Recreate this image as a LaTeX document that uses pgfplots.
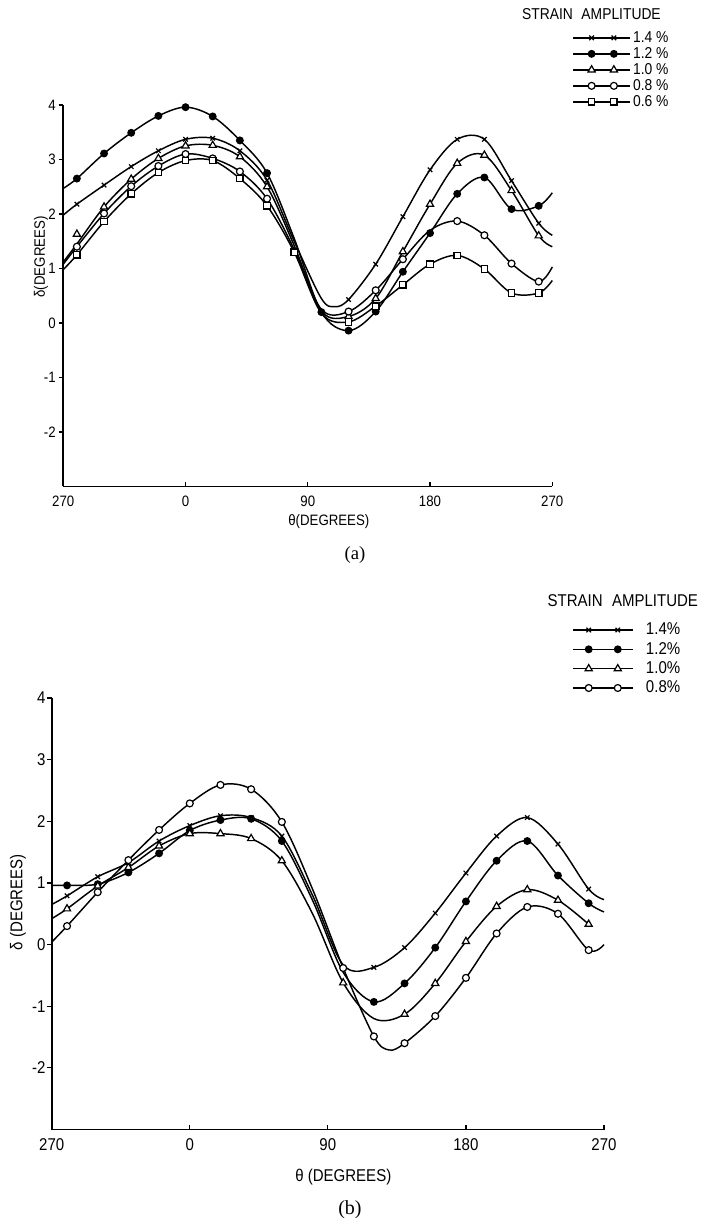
\documentclass[border=0pt]{standalone}
\usepackage{pgfplots}
\pgfplotsset{compat=1.18}
\usepackage{pgfplotstable}
\usepackage{fontspec}
\setmainfont[FakeStretch=0.88]{Liberation Sans}
\newfontfamily\capfont{Liberation Serif}
\newcommand\fa{\fontsize{11.3}{13}\selectfont}
\newcommand\fb{\fontsize{12.8}{15}\selectfont}

% theta axis runs from -90 (= 270 deg) to 270 deg.
% column y: points of the drawn curve, column m: measured points (nan = no mark)

% ---------- (a) ----------
\pgfplotstableread{
x y m
-90 1.98 nan
-80 2.18 2.18
-60 2.53 2.53
-40 2.87 2.87
-20 3.16 3.16
0 3.37 3.37
20 3.39 3.39
40 3.16 3.16
60 2.62 2.62
80 1.50 nan
100 0.45 nan
110 0.30 nan
120 0.43 0.43
140 1.08 1.08
160 1.95 1.95
180 2.81 2.81
200 3.37 3.37
220 3.37 3.37
240 2.61 2.61
260 1.83 1.83
270 1.61 nan
}\tAa
\pgfplotstableread{
x y m
-90 2.47 nan
-80 2.65 2.65
-60 3.11 3.11
-40 3.49 3.49
-20 3.80 3.80
0 3.96 3.96
20 3.79 3.79
40 3.35 3.35
60 2.75 2.75
80 1.55 nan
100 0.20 0.20
120 -0.14 -0.14
140 0.21 0.21
160 0.94 0.94
180 1.65 1.65
200 2.37 2.37
220 2.67 2.67
240 2.09 2.09
260 2.15 2.15
270 2.39 nan
}\tAb
\pgfplotstableread{
x y m
-90 1.12 nan
-80 1.45 1.63
-60 2.13 2.13
-40 2.64 2.64
-20 3.02 3.02
0 3.25 3.25
20 3.26 3.26
40 3.05 3.05
60 2.50 2.50
80 1.42 nan
100 0.22 nan
120 0.12 0.12
140 0.45 0.45
160 1.31 1.31
180 2.18 2.18
200 2.93 2.93
220 3.08 3.08
240 2.43 2.43
260 1.60 1.60
270 1.40 nan
}\tAc
\pgfplotstableread{
x y m
-90 1.08 nan
-80 1.40 1.40
-60 2.01 2.01
-40 2.51 2.51
-20 2.88 2.88
0 3.10 3.10
20 3.02 3.02
40 2.78 2.78
60 2.28 2.28
80 1.35 nan
100 0.25 nan
120 0.21 0.21
140 0.60 0.60
160 1.17 1.17
180 1.70 nan
200 1.87 1.87
220 1.61 1.61
240 1.09 1.09
260 0.76 0.76
270 1.03 nan
}\tAd
\pgfplotstableread{
x y m
-90 0.98 nan
-80 1.25 1.25
-60 1.86 1.86
-40 2.37 2.37
-20 2.76 2.76
0 2.98 2.98
20 2.98 2.98
40 2.65 2.65
60 2.15 2.15
80 1.30 1.30
100 0.18 nan
120 0.02 0.02
140 0.31 0.31
160 0.70 0.70
180 1.08 1.08
200 1.24 1.24
220 0.99 0.99
240 0.55 0.55
260 0.55 0.55
270 0.78 nan
}\tAe

% ---------- (b) ----------
\pgfplotstableread{
x y m
-90 0.65 nan
-80 0.79 0.79
-60 1.10 1.10
-40 1.33 1.33
-20 1.68 1.68
0 1.93 1.93
20 2.09 2.09
40 2.06 2.06
60 1.76 1.76
80 0.80 nan
100 -0.33 nan
120 -0.37 -0.37
140 -0.05 -0.05
160 0.51 0.51
180 1.16 1.16
200 1.76 1.76
220 2.06 2.06
240 1.63 1.63
260 0.90 0.90
270 0.73 nan
}\tBa
\pgfplotstableread{
x y m
-90 0.96 nan
-80 0.96 0.96
-60 0.98 0.98
-40 1.17 1.17
-20 1.48 1.48
0 1.85 1.85
20 2.02 2.02
40 2.04 2.04
60 1.68 1.68
80 0.72 nan
100 -0.45 nan
120 -0.93 -0.93
140 -0.63 -0.63
160 -0.05 -0.05
180 0.70 0.70
200 1.36 1.36
220 1.68 1.68
240 1.12 1.12
260 0.67 0.67
270 0.53 nan
}\tBb
\pgfplotstableread{
x y m
-90 0.42 nan
-80 0.58 0.58
-60 0.95 0.95
-40 1.25 1.25
-20 1.60 1.60
0 1.80 1.80
20 1.80 1.80
40 1.72 1.72
60 1.36 1.36
80 0.50 nan
100 -0.62 -0.62
120 -1.20 nan
140 -1.13 -1.13
160 -0.63 -0.63
180 0.05 0.05
200 0.62 0.62
220 0.89 0.89
240 0.72 0.72
260 0.33 0.33
}\tBc
\pgfplotstableread{
x y m
-90 0.04 nan
-80 0.30 0.30
-60 0.85 0.85
-40 1.37 1.37
-20 1.86 1.86
0 2.29 2.29
20 2.59 2.59
40 2.52 2.52
60 1.99 1.99
80 0.90 nan
100 -0.38 -0.38
120 -1.49 -1.49
130 -1.71 nan
140 -1.60 -1.60
160 -1.16 -1.16
180 -0.54 -0.54
200 0.18 0.18
220 0.61 0.61
240 0.50 0.50
260 -0.09 -0.09
270 0.00 nan
}\tBd

\pgfplotsset{
  curve/.style={black, line width=1.1pt, smooth, tension=0.55, mark=none, forget plot},
  mk14/.style={black, only marks, mark=x, mark size=2.4pt, mark options={solid, line width=0.9pt}},
  mk12/.style={black, only marks, mark=*, mark size=2.5pt, mark options={solid, line width=0.9pt, fill=black}},
  mk10/.style={black, only marks, mark=triangle*, mark size=3.1pt, mark options={solid, line width=0.9pt, fill=white}},
  mk08/.style={black, only marks, mark=*, mark size=2.6pt, mark options={solid, line width=0.9pt, fill=white}},
  mk06/.style={black, only marks, mark=square*, mark size=2.4pt, mark options={solid, line width=0.9pt, fill=white}},
  deltaaxis/.style={
    scale only axis, anchor=south west,
    xmin=-90, xmax=270, ymin=-3, ymax=4,
    axis lines*=left, axis line style={line width=1.3pt, black},
    xtick={-90,0,90,180,270}, xticklabels={270,0,90,180,270},
    ytick={-2,-1,0,1,2,3,4}, yticklabels={-2,-1,0,1,2,3,4},
    tick align=inside, major tick length=3.5pt,
    tick style={line width=0.9pt, black},
    ytick style={xshift=-3.5pt},
    clip=false,
    legend cell align=left,
  },
}

\begin{document}
\begin{tikzpicture}
\path[use as bounding box] (0pt,0pt) rectangle (528pt,913.5pt);

% ----- panel (a) -----
\begin{axis}[deltaaxis,
  at={(47.475pt,548.625pt)}, width=366.75pt, height=286.125pt,
  xticklabel style={font=\fa, anchor=base, inner sep=0pt, yshift=-15.25pt},
  yticklabel style={font=\fa, anchor=east, inner sep=0pt, xshift=-5.5pt},
  xlabel={θ(DEGREES)}, ylabel={δ(DEGREES)},
  x label style={font=\fa, at={(axis description cs:0.543,-0.0923)}, anchor=center},
  y label style={font=\fa, at={(axis description cs:-0.0456,0.6016)}, anchor=center},
  legend image code/.code={
    \draw[#1, mark=none, line width=1.1pt] (0pt,0pt) -- (43pt,0pt);
    \draw[#1] plot[only marks] coordinates {(13.9pt,0pt) (30.6pt,0pt)};
  },
  legend style={draw=none, fill=none, inner sep=0pt, outer sep=0pt,
    at={(axis description cs:1.041,1.197)}, anchor=north west,
    row sep=0pt,
    nodes={font=\fontsize{11.8}{13}\selectfont, inner sep=0pt, minimum height=12pt},
    /tikz/every odd column/.append style={column sep=1.5pt}},
]
\addplot[curve] table[x=x, y=y] {\tAa};
\addplot[curve] table[x=x, y=y] {\tAb};
\addplot[curve] table[x=x, y=y] {\tAc};
\addplot[curve] table[x=x, y=y] {\tAd};
\addplot[curve] table[x=x, y=y] {\tAe};
\addplot[mk14] table[x=x, y=m] {\tAa}; \addlegendentry{1.4 \%}
\addplot[mk12] table[x=x, y=m] {\tAb}; \addlegendentry{1.2 \%}
\addplot[mk10] table[x=x, y=m] {\tAc}; \addlegendentry{1.0 \%}
\addplot[mk08] table[x=x, y=m] {\tAd}; \addlegendentry{0.8 \%}
\addplot[mk06] table[x=x, y=m] {\tAe}; \addlegendentry{0.6 \%}
\node[font=\fontsize{11.8}{13}\selectfont] at (axis description cs:1.080,1.2385) {STRAIN\hspace{0.55em}AMPLITUDE};
\node[font={\capfont\fontsize{14}{16}\selectfont}] at (axis description cs:0.5965,-0.1796) {(a)};
\end{axis}

% ----- panel (b) -----
\begin{axis}[deltaaxis,
  at={(38.775pt,66.375pt)}, width=414.225pt, height=323.625pt,
  every mark/.append style={scale=1.12},
  xticklabel style={font=\fb, anchor=base, inner sep=0pt, yshift=-15.75pt},
  yticklabel style={font=\fb, anchor=east, inner sep=0pt, xshift=-4.5pt},
  xlabel={θ (DEGREES)}, ylabel={δ (DEGREES)},
  x label style={font=\fb, at={(axis description cs:0.528,-0.1094)}, anchor=center},
  y label style={font=\fb, at={(axis description cs:-0.061,0.527)}, anchor=center},
  legend image code/.code={
    \draw[#1, mark=none, line width=1.1pt] (0pt,0pt) -- (45pt,0pt);
    \draw[#1] plot[only marks] coordinates {(11.6pt,0pt) (33.4pt,0pt)};
  },
  legend style={draw=none, fill=none, inner sep=0pt, outer sep=0pt,
    at={(axis description cs:0.943,1.18)}, anchor=north west,
    row sep=0pt,
    nodes={font=\fontsize{12.8}{15}\selectfont, inner sep=0pt, minimum height=14.5pt},
    /tikz/every odd column/.append style={column sep=9pt}},
]
\addplot[curve] table[x=x, y=y] {\tBa};
\addplot[curve] table[x=x, y=y] {\tBb};
\addplot[curve] table[x=x, y=y] {\tBc};
\addplot[curve] table[x=x, y=y] {\tBd};
\addplot[mk14] table[x=x, y=m] {\tBa}; \addlegendentry{1.4\%}
\addplot[mk12] table[x=x, y=m] {\tBb}; \addlegendentry{1.2\%}
\addplot[mk10] table[x=x, y=m] {\tBc}; \addlegendentry{1.0\%}
\addplot[mk08] table[x=x, y=m] {\tBd}; \addlegendentry{0.8\%}
\node[font=\fontsize{12.8}{15}\selectfont] at (axis description cs:1.034,1.2255) {STRAIN\hspace{0.55em}AMPLITUDE};
\node[font={\capfont\fontsize{15}{17}\selectfont}] at (axis description cs:0.540,-0.1866) {(b)};
\end{axis}
\end{tikzpicture}
\end{document}
